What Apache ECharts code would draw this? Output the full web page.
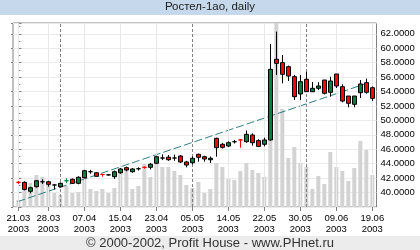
<!DOCTYPE html>
<html><head><meta charset="utf-8">
<script src="https://cdn.jsdelivr.net/npm/echarts@6/dist/echarts.min.js"></script>
<style>html,body{margin:0;padding:0;background:#fff}#c{width:420px;height:250px}</style>
</head><body><div id="c"></div>
<script>
// trading days (dd.mm), year 2003
const dates = ['21.03','24.03','25.03','26.03','27.03','28.03','31.03',
  '01.04','02.04','03.04','04.04','07.04','08.04','09.04','10.04','11.04','14.04','15.04','16.04','17.04','18.04','21.04','22.04','23.04','24.04','25.04','28.04','29.04','30.04',
  '05.05','06.05','07.05','08.05','12.05','13.05','14.05','15.05','16.05','19.05','20.05','21.05','22.05','23.05','26.05','27.05','28.05','29.05','30.05',
  '02.06','03.06','04.06','05.06','06.06','09.06','10.06','11.06','16.06','17.06','18.06','19.06'];
const openP  = [41.42,41.42,40.18,40.81,41.50,41.50,41.05,40.81,41.64,41.84,41.28,42.06,42.89,42.75,42.50,42.45,42.20,42.75,43.45,42.89,43.30,43.50,43.50,44.06,44.79,44.90,44.79,45.07,44.24,44.14,45.30,44.97,44.55,47.52,46.69,46.45,47.05,47.29,47.05,47.98,47.20,46.69,47.29,58.47,58.00,57.44,56.06,53.66,55.70,53.98,54.45,55.60,53.90,56.43,54.67,53.38,52.23,53.84,55.23,54.53];
const closeP = [41.42,40.44,40.67,41.64,41.50,41.15,41.05,41.28,41.64,41.28,42.12,43.03,42.89,42.25,42.50,42.45,42.89,43.27,43.13,43.27,43.30,43.50,43.92,44.97,44.79,44.55,44.79,44.24,43.82,44.75,44.89,44.65,44.75,46.22,46.27,46.91,47.05,47.29,48.07,46.91,46.40,47.29,57.08,57.91,56.39,56.15,53.29,55.37,53.98,54.45,54.77,53.76,55.46,54.77,52.69,52.37,53.38,55.05,53.90,53.06];
const lowP   = [41.20,40.30,39.90,40.70,41.19,40.81,40.45,40.70,41.30,41.20,41.15,41.95,42.60,42.20,42.20,42.35,41.90,42.60,42.95,42.75,43.05,43.30,43.20,43.95,44.50,44.40,44.40,44.10,43.50,43.90,44.28,44.28,44.10,44.97,46.10,46.30,46.80,46.22,46.90,46.50,46.30,46.40,47.20,56.30,55.14,55.46,52.83,52.83,53.98,53.98,54.20,53.60,53.29,54.50,52.50,51.82,51.82,53.10,53.70,52.70];
const highP  = [41.60,41.55,40.81,41.75,41.84,41.64,41.15,41.40,41.97,41.95,42.25,43.15,43.15,42.85,42.60,42.55,43.05,43.40,43.60,43.40,43.50,43.60,44.10,45.10,45.30,45.20,45.25,45.20,44.40,45.00,45.40,45.10,45.00,47.60,46.90,47.10,47.30,47.40,48.60,48.20,47.40,47.60,60.59,62.30,59.06,57.60,56.30,56.30,56.75,55.32,55.30,55.60,56.06,56.43,55.00,53.38,53.38,55.60,55.80,54.70];
const volume = [7,17,24,32,30,24,14,12,21,14,15,29,18,16,18,14,19,34,37,18,21,43,30,49,40,40,36,32,22,19,25,14,18,44,40,28,27,36,44,37,34,30,120,190,98,49,60,44,40,18,31,23,55,40,36,26,39,66,57,32];
const tickLabels = ['21.03','28.03','07.04','15.04','23.04','05.05','14.05','22.05','30.05','09.06','19.06'];
const dojiRed = ['21.03','10.04','21.04','16.05'];
const dojiGreen = ['02.04'];
const trendLine = [[-0.17, 38.73], [58.6, 55.28]];

const tickIdx = tickLabels.map(l => dates.indexOf(l));
const monthIdx = dates.map((d, i) => i).filter(i => i > 0 && dates[i].slice(3) !== dates[i - 1].slice(3));
const gridIdx = tickIdx.filter(i => monthIdx.indexOf(i) < 0);

const RED = '#ff0000', GREEN = '#008040';
const candleData = dates.map((d, i) => {
  const item = { value: [i, openP[i], closeP[i], lowP[i], highP[i]] };
  if (openP[i] === closeP[i]) {
    const c = dojiRed.indexOf(d) >= 0 ? RED : (dojiGreen.indexOf(d) >= 0 ? GREEN : '#000');
    item.itemStyle = { borderColor: c, borderColor0: c, borderColorDoji: c };
  }
  return item;
});

const chart = echarts.init(document.getElementById('c'), null, { renderer: 'canvas' });
const FONT = 'Liberation Sans';
chart.setOption({
  animation: false,
  textStyle: { fontFamily: FONT },
  graphic: [
    { type: 'rect', z: 0, shape: { x: 0, y: 0, width: 420, height: 15 }, style: { fill: '#c6d9ec' } },
    { type: 'rect', z: 0, shape: { x: 0, y: 236, width: 420, height: 14 }, style: { fill: '#ececec' } }
  ],
  title: [
    { text: 'Ростел-1ао, daily', left: 'center', top: 1, padding: 0,
      textStyle: { fontSize: 11.5, fontWeight: 'normal', color: '#202020', fontFamily: FONT } },
    { text: '© 2000-2002, Profit House - www.PHnet.ru', left: 'center', top: 237, padding: 0,
      textStyle: { fontSize: 13, fontWeight: 'normal', color: '#333', fontFamily: FONT } }
  ],
  grid: { left: 13, right: 43.5, top: 23, bottom: 43, show: true, borderColor: '#808080', borderWidth: 1, containLabel: false },
  xAxis: {
    type: 'value', min: -0.9, max: 59.7,
    axisLine: { show: false },
    splitLine: { show: false },
    axisTick: { show: true, customValues: tickIdx, length: 4, lineStyle: { color: '#808080' } },
    axisLabel: { customValues: tickIdx, fontSize: 9.5, color: '#000', margin: 6, lineHeight: 11,
      formatter: v => dates[Math.round(v)] + '\n2003' }
  },
  yAxis: [
    { type: 'value', position: 'right', min: 38, max: 63.5, interval: 2,
      axisLine: { show: true, lineStyle: { color: '#808080' } },
      axisTick: { show: true, length: 3, lineStyle: { color: '#808080' } },
      minorTick: { show: true, splitNumber: 2, length: 2, lineStyle: { color: '#808080' } },
      axisLabel: { fontSize: 9.5, color: '#000', margin: 4, showMaxLabel: false, showMinLabel: false,
        formatter: v => v.toFixed(4) },
      splitLine: { show: true, lineStyle: { color: '#ebebeb' } } },
    { type: 'value', position: 'left', min: 38, max: 63.5, interval: 2,
      axisLine: { show: false }, axisLabel: { show: false }, splitLine: { show: false },
      axisTick: { show: true, length: 2, lineStyle: { color: '#808080' } } },
    { type: 'value', min: 0, max: 184, show: false }
  ],
  series: [
    { type: 'line', data: [], z: 1, silent: true,
      markLine: { silent: true, symbol: 'none', label: { show: false },
        lineStyle: { color: '#e8e8e8', type: 'solid', width: 1 },
        data: gridIdx.map(i => ({ xAxis: i })) } },
    { type: 'bar', yAxisIndex: 2, z: 2, barWidth: 4, silent: true,
      itemStyle: { color: '#d3d3d3' },
      data: volume.map((v, i) => [i, v]) },
    { type: 'line', data: [], z: 3, silent: true,
      markLine: { silent: true, symbol: 'none', label: { show: false },
        lineStyle: { color: '#808080', type: [3, 2], width: 1 },
        data: monthIdx.map(i => ({ xAxis: i })) } },
    { type: 'line', z: 4, data: trendLine, symbol: 'none', silent: true,
      lineStyle: { color: '#2f7f80', type: [8, 3], width: 1 } },
    { type: 'candlestick', z: 5, barWidth: 4, silent: true,
      encode: { x: 0, y: [1, 2, 3, 4] },
      itemStyle: { color: GREEN, color0: RED, borderColor: '#000', borderColor0: '#000', borderColorDoji: '#000', borderWidth: 1 },
      data: candleData }
  ]
});
</script></body></html>
